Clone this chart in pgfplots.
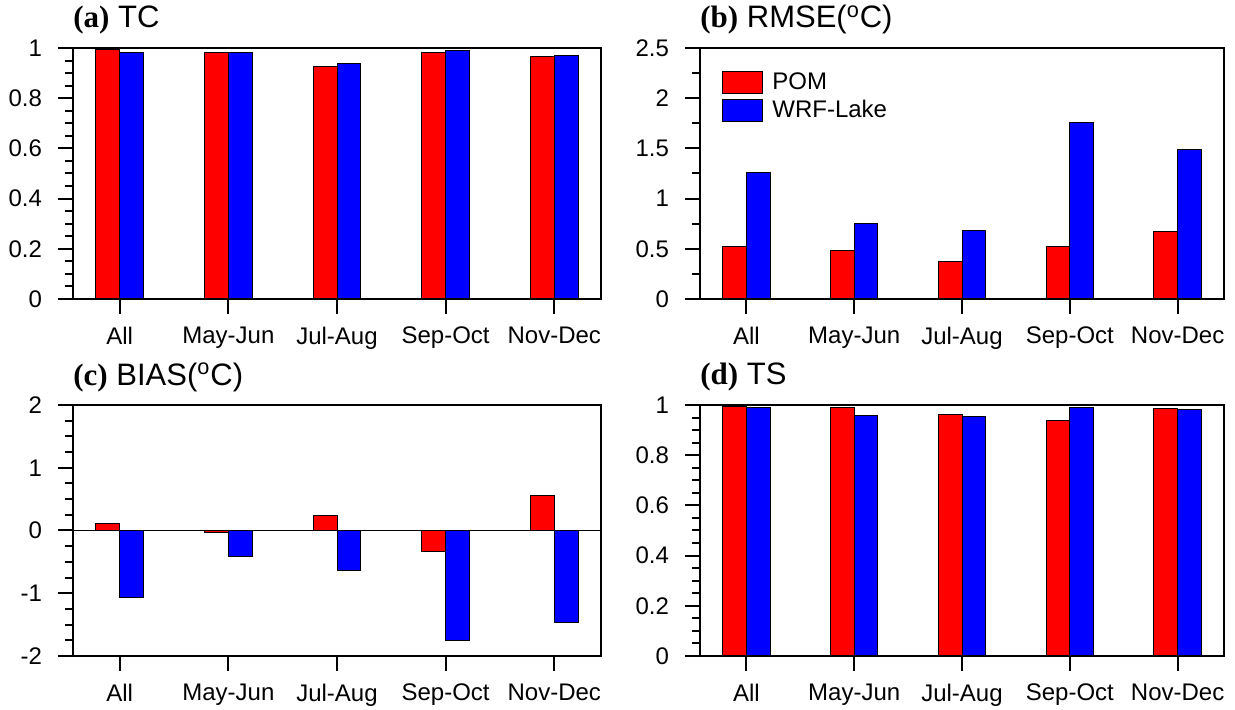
\documentclass[border=0pt]{standalone}
\usepackage{pgfplots}
\pgfplotsset{compat=1.18}
\usepackage{fontspec}
\setmainfont{Liberation Sans}
\newfontfamily\tnr{Liberation Serif}

\pgfplotsset{
  panel/.style={
    scale only axis, height=125.5pt,
    anchor=south west,
    xmin=-0.43, xmax=4.43,
    xtick={0,1,2,3,4},
    xticklabels={All,May-Jun,Jul-Aug,Sep-Oct,Nov-Dec},
    tick align=outside, xtick pos=bottom, ytick pos=left,
    major tick length=7.5pt, minor tick length=4pt,
    every tick/.style={black, line width=1pt},
    axis line style={line width=1.2pt},
    tick label style={font=\fontsize{12}{14}\selectfont},
    yticklabel style={xshift=-4.5pt},
    xticklabel style={yshift=-3pt},
    /pgf/number format/assume math mode=true,
    title style={at={(0,1)}, anchor=base west, yshift=4pt, inner sep=0pt, font=\fontsize{15.5}{18}\selectfont},
  },
  redbar/.style={ybar, bar width=0.22, bar shift=-0.11, fill=red, draw=black, line width=0.5pt},
  bluebar/.style={ybar, bar width=0.22, bar shift=0.11, fill=blue, draw=black, line width=0.5pt},
}

\begin{document}
\begin{tikzpicture}
\useasboundingbox (0,0) rectangle (617.5pt,355pt);

% (a) TC
\begin{axis}[panel, width=264pt, at={(36.5pt,205.5pt)},
  title={{\tnr\bfseries (a)} TC},
  ymin=0, ymax=1, ytick={0,0.2,0.4,0.6,0.8,1}, yticklabels={0,0.2,0.4,0.6,0.8,1},
  minor y tick num=3]
\addplot[redbar] coordinates {(0,0.993) (1,0.984) (2,0.927) (3,0.984) (4,0.967)};
\addplot[bluebar] coordinates {(0,0.983) (1,0.981) (2,0.939) (3,0.988) (4,0.972)};
\end{axis}

% (b) RMSE
\begin{axis}[panel, width=262pt, at={(350pt,205.5pt)},
  title={{\tnr\bfseries (b)} RMSE(\textsuperscript{o}C)},
  ymin=0, ymax=2.5, ytick={0,0.5,1,1.5,2,2.5}, yticklabels={0,0.5,1,1.5,2,2.5},
  minor y tick num=1,
  legend style={at={(0,1)}, anchor=north west, xshift=11pt, yshift=-10pt,
    draw=none, fill=none, inner sep=0pt, row sep=0pt,
    font=\fontsize{12}{14}\selectfont,
    /tikz/every odd column/.append style={column sep=2.5pt}},
  legend cell align=left]
\addplot[redbar, legend image code/.code={\draw[fill=red,draw=black,line width=0.5pt] (0pt,-5.5pt) rectangle (20pt,5.5pt);}]
  coordinates {(0,0.519) (1,0.479) (2,0.372) (3,0.525) (4,0.668)};
\addlegendentry{POM}
\addplot[bluebar, legend image code/.code={\draw[fill=blue,draw=black,line width=0.5pt] (0pt,-5.5pt) rectangle (20pt,5.5pt);}]
  coordinates {(0,1.257) (1,0.755) (2,0.678) (3,1.762) (4,1.493)};
\addlegendentry{WRF-Lake}
\end{axis}

% (c) BIAS
\begin{axis}[panel, width=264pt, at={(36.5pt,27pt)},
  title={{\tnr\bfseries (c)} BIAS(\textsuperscript{o}C)},
  ymin=-2, ymax=2, ytick={-2,-1,0,1,2}, yticklabels={-2,-1,0,1,2},
  minor y tick num=3]
\addplot[redbar] coordinates {(0,0.106) (1,-0.037) (2,0.234) (3,-0.329) (4,0.563)};
\addplot[bluebar] coordinates {(0,-1.062) (1,-0.409) (2,-0.632) (3,-1.758) (4,-1.461)};
\addplot[black, line width=0.6pt, forget plot] coordinates {(-0.43,0) (4.43,0)};
\end{axis}

% (d) TS
\begin{axis}[panel, width=262pt, at={(350pt,27pt)},
  title={{\tnr\bfseries (d)} TS},
  ymin=0, ymax=1, ytick={0,0.2,0.4,0.6,0.8,1}, yticklabels={0,0.2,0.4,0.6,0.8,1},
  minor y tick num=3]
\addplot[redbar] coordinates {(0,0.995) (1,0.991) (2,0.964) (3,0.939) (4,0.987)};
\addplot[bluebar] coordinates {(0,0.991) (1,0.960) (2,0.955) (3,0.991) (4,0.983)};
\end{axis}
\end{tikzpicture}
\end{document}
